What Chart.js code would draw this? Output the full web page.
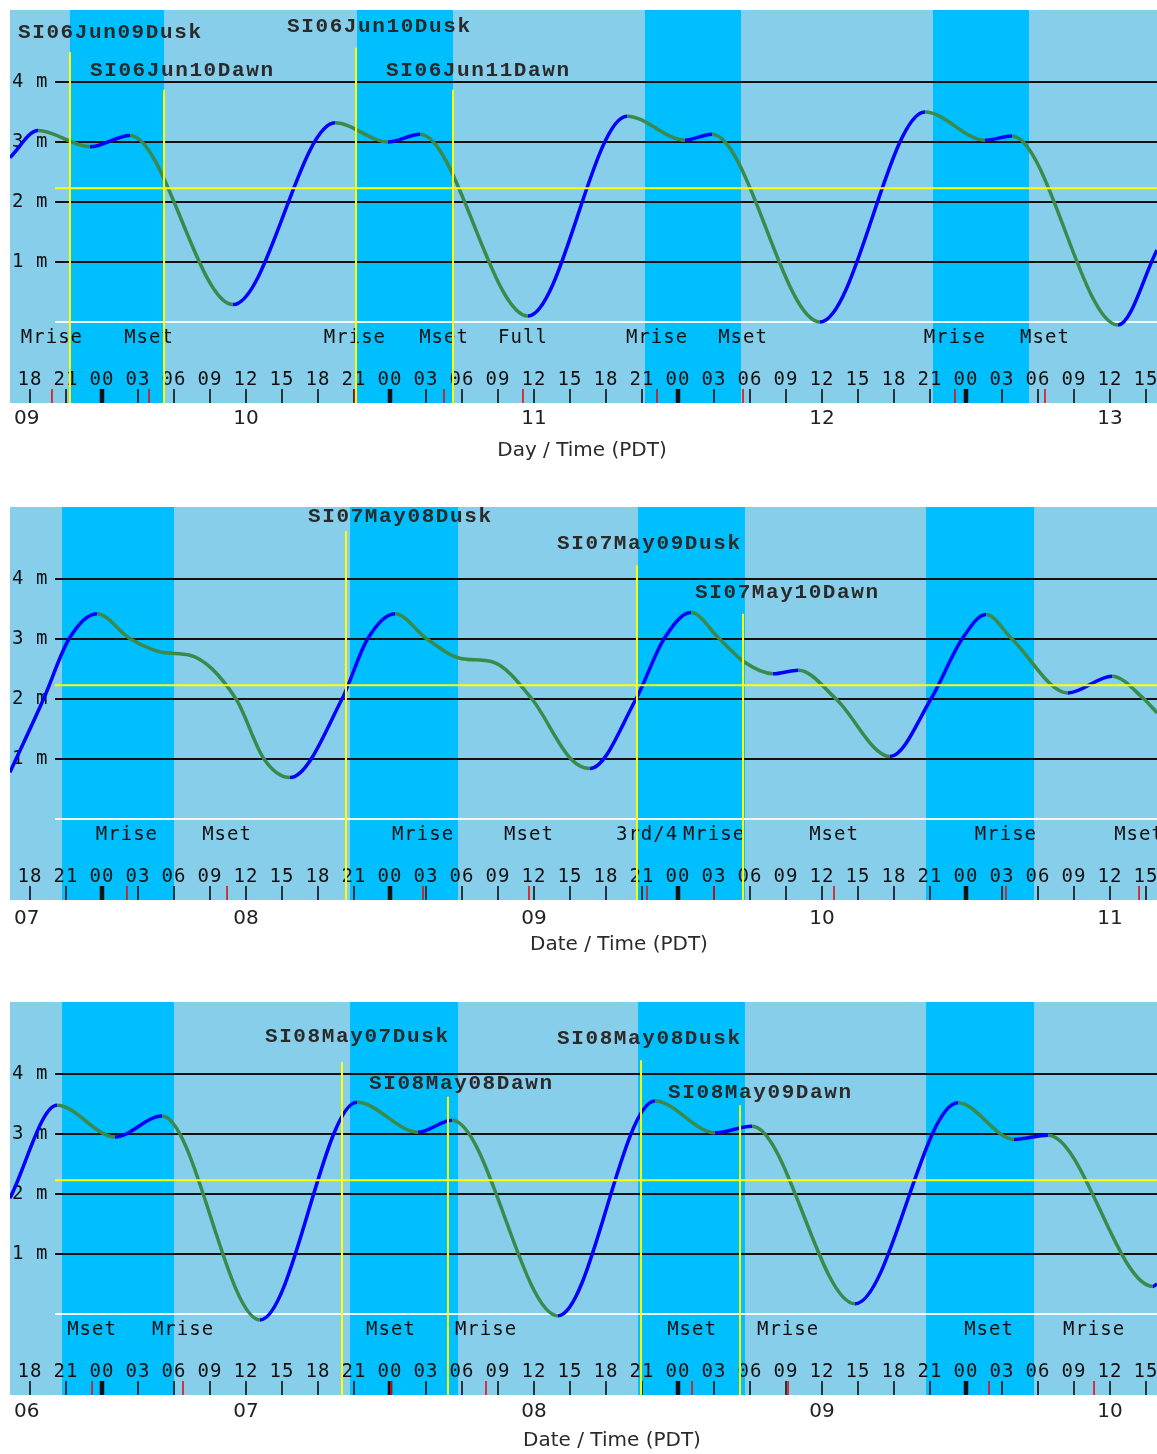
<!DOCTYPE html>
<html>
<head>
<meta charset="utf-8">
<script src="https://cdn.jsdelivr.net/npm/chart.js@4/dist/chart.umd.min.js"></script>
<style>
  html, body { margin: 0; padding: 0; background: #fff; }
  body { width: 1157px; height: 1454px; position: relative; overflow: hidden; }
  .panel { position: absolute; left: 0; width: 1157px; }
  canvas { display: block; }
</style>
</head>
<body>
<div class="panel" style="top:0"><canvas id="c1"></canvas></div>
<div class="panel" style="top:497px"><canvas id="c2"></canvas></div>
<div class="panel" style="top:992px"><canvas id="c3"></canvas></div>
<script>
// Time on the x axis is hours since 00:00 of the first day named in each panel.

// Shared axis labelling
const hourTicks = [18,21,24,27,30,33,36,39,42,45,48,51,54,57,60,63,66,69,72,75,78,81,84,87,90,93,96,99,102,105,108,111];
const hourTickLabels = ['18','21','00','03','06','09','12','15','18','21','00','03','06','09','12','15',
                        '18','21','00','03','06','09','12','15','18','21','00','03','06','09','12','15'];
const midnightHours = [24,48,72,96];
const dayNoonHours = [12,36,60,84,108];
const depthLevels = [1,2,3,4];
const depthLabels = ['1 m','2 m','3 m','4 m'];
const meanLevel = 2.23;

// ---- Panel 1: 09 - 13 June ----
const p1Days = ['09','10','11','12','13'];
const p1TideHours  = [16.33, 18.67, 23.0, 26.33, 34.92, 43.42, 47.83, 50.5, 59.5, 67.75, 72.58, 74.83, 83.83, 92.58, 97.58, 99.83, 108.67, 111.92];
const p1TideMetres = [2.74, 3.19, 2.92, 3.11, 0.29, 3.32, 3.0, 3.13, 0.1, 3.43, 3.03, 3.13, 0.0, 3.5, 3.03, 3.1, -0.05, 1.2];
const p1NightStart = [21.33, 45.25, 69.25, 93.25];
const p1NightEnd   = [29.17, 53.25, 77.25, 101.25];
const p1MoonHours  = [19.83, 27.92, 45.08, 52.5, 59.08, 70.25, 77.42, 95.08, 102.58];
const p1MoonNames  = ['Mrise','Mset','Mrise','Mset','Full','Mrise','Mset','Mrise','Mset'];
const p1MarkHours  = [21.33, 29.17, 45.17, 53.25];
const p1MarkNames  = ['SI06Jun09Dusk','SI06Jun10Dawn','SI06Jun10Dusk','SI06Jun11Dawn'];

// ---- Panel 2: 07 - 11 May ----
const p2Days = ['07','08','09','10','11'];
const p2TideHours  = [16.33, 19.13, 21.25, 23.58, 26.38, 29.25, 31.33, 35.17, 37.5, 39.67, 44.0, 46.13, 48.42, 51.08, 54.0, 56.5, 59.83, 63.08, 64.67,
                      68.5, 70.83, 73.08, 75.47, 77.5, 79.92, 82.04, 85.17, 89.67, 93.08, 95.67, 97.67, 99.83, 104.5, 108.17, 110.83, 111.92];
const p2TideMetres = [0.78, 2.0, 3.0, 3.42, 3.0, 2.77, 2.73, 2.0, 1.0, 0.69, 2.0, 3.0, 3.42, 3.0, 2.67, 2.62, 2.0, 1.0, 0.84,
                      2.0, 3.0, 3.44, 3.0, 2.62, 2.42, 2.48, 2.0, 1.04, 2.0, 3.0, 3.41, 3.0, 2.1, 2.38, 2.0, 1.77];
const p2NightStart = [20.67, 44.67, 68.67, 92.67];
const p2NightEnd   = [30.0, 53.67, 77.58, 101.67];
const p2MoonHours  = [26.08, 34.42, 50.75, 59.58, 69.42, 75.0, 85.0, 99.33, 110.42];
const p2MoonNames  = ['Mrise','Mset','Mrise','Mset','3rd/4','Mrise','Mset','Mrise','Mset'];
const p2MarkHours  = [44.33, 68.58, 77.42];
const p2MarkNames  = ['SI07May08Dusk','SI07May09Dusk','SI07May10Dawn'];

// ---- Panel 3: 06 - 10 May ----
const p3Days = ['06','07','08','09','10'];
const p3TideHours  = [16.33, 20.25, 25.08, 29.0, 37.17, 45.25, 50.33, 53.17, 62.0, 70.08, 75.08, 78.17, 86.75, 95.33, 100.0, 102.83, 111.58, 111.92];
const p3TideMetres = [1.93, 3.48, 2.95, 3.3, -0.1, 3.53, 3.03, 3.23, -0.03, 3.55, 3.02, 3.13, 0.17, 3.52, 2.91, 2.98, 0.46, 0.5];
const p3NightStart = [20.67, 44.67, 68.67, 92.67];
const p3NightEnd   = [30.0, 53.67, 77.58, 101.67];
const p3MoonHours  = [23.17, 30.75, 48.08, 56.0, 73.17, 81.17, 97.92, 106.67];
const p3MoonNames  = ['Mset','Mrise','Mset','Mrise','Mset','Mrise','Mset','Mrise'];
const p3MarkHours  = [44.0, 52.83, 68.92, 77.17];
const p3MarkNames  = ['SI08May07Dusk','SI08May08Dawn','SI08May08Dusk','SI08May09Dawn'];

// Placement of the dusk/dawn markers: line top (m), label left edge (h), label middle (m)
const p1MarkLayout = [
  { top: 4.50, labelX: 17.0,  labelY: 4.82 },
  { top: 3.87, labelX: 23.0,  labelY: 4.18 },
  { top: 4.57, labelX: 39.42, labelY: 4.92 },
  { top: 3.87, labelX: 47.67, labelY: 4.18 }
];
const p2MarkLayout = [
  { top: 4.80, labelX: 41.17, labelY: 5.03 },
  { top: 4.23, labelX: 61.92, labelY: 4.58 },
  { top: 3.42, labelX: 73.42, labelY: 3.77 }
];
const p3MarkLayout = [
  { top: 4.20, labelX: 37.58, labelY: 4.62 },
  { top: 3.62, labelX: 46.25, labelY: 3.83 },
  { top: 4.23, labelX: 61.92, labelY: 4.58 },
  { top: 3.48, labelX: 71.17, labelY: 3.68 }
];

const SKY = '#87ceeb', NIGHT = '#00bfff', RISE = '#0000ff', FALL = '#3a8a4c', MARK = '#ffff00';
const MONO = '"DejaVu Sans Mono", monospace';

function line(ctx, x0, y0, x1, y1, color, width) {
  ctx.save();
  ctx.strokeStyle = color; ctx.lineWidth = width;
  ctx.beginPath(); ctx.moveTo(x0, y0); ctx.lineTo(x1, y1); ctx.stroke();
  ctx.restore();
}

function text(ctx, str, x, y, font, color, align, spacing) {
  ctx.save();
  ctx.font = font; ctx.fillStyle = color;
  ctx.textAlign = align || 'left'; ctx.textBaseline = 'middle';
  if ('letterSpacing' in ctx) ctx.letterSpacing = (spacing || 0) + 'px';
  ctx.fillText(str, x, y);
  ctx.restore();
}

const tideDecor = {
  id: 'tideDecor',
  beforeDatasetsDraw(chart, args, o) {
    const { ctx, chartArea: a, scales: { x, y } } = chart;
    ctx.save();
    ctx.fillStyle = SKY;
    ctx.fillRect(a.left, a.top, a.width, a.height);
    ctx.fillStyle = NIGHT;
    o.nightStart.forEach((s, i) => {
      const x0 = Math.max(a.left, x.getPixelForValue(s));
      const x1 = Math.min(a.right, x.getPixelForValue(o.nightEnd[i]));
      ctx.fillRect(x0, a.top, x1 - x0, a.height);
    });
    ctx.restore();

    const gx = a.left + 45;
    depthLevels.forEach((lv, i) => {
      const py = y.getPixelForValue(lv);
      line(ctx, gx, py, a.right, py, '#111', 2);
      text(ctx, depthLabels[i], a.left + 2, py, '19px ' + MONO, '#111', 'left', 0.5);
    });
    const zy = y.getPixelForValue(0);
    line(ctx, gx, zy, a.right, zy, '#f2f8fc', 2);

    // moon events: name above the hour row, red tick on the time axis
    o.moonHours.forEach((h, i) => {
      text(ctx, o.moonNames[i], x.getPixelForValue(h), a.top + 328, '19px ' + MONO, '#111', 'center', 1);
    });
    hourTicks.forEach((h, i) => {
      const px = x.getPixelForValue(h);
      text(ctx, hourTickLabels[i], px, a.top + 370, '19px ' + MONO, '#111', 'center', 1);
      const thick = midnightHours.includes(h);
      line(ctx, px, a.bottom - 14, px, a.bottom, '#111', thick ? 4.5 : 1.6);
    });
    o.moonHours.forEach(h => {
      const px = x.getPixelForValue(h);
      line(ctx, px, a.bottom - 14, px, a.bottom, '#e01010', 1.6);
    });
  },
  afterDatasetsDraw(chart, args, o) {
    const { ctx, chartArea: a, scales: { x, y } } = chart;
    ctx.save();
    ctx.beginPath(); ctx.rect(a.left, a.top, a.width, a.height); ctx.clip();
    const my = y.getPixelForValue(meanLevel);
    line(ctx, a.left + 45, my, a.right, my, MARK, 2);
    o.markHours.forEach((h, i) => {
      const px = x.getPixelForValue(h);
      const lay = o.markLayout[i];
      line(ctx, px, y.getPixelForValue(lay.top), px, a.bottom, MARK, 2);
      text(ctx, o.markNames[i], x.getPixelForValue(lay.labelX), y.getPixelForValue(lay.labelY),
           'bold 21px "Liberation Mono", monospace', '#2a2a2a', 'left', 1.6);
    });
    ctx.restore();

    // day names at noon, the first one held inside the left edge
    ctx.save();
    ctx.font = '20px "DejaVu Sans", sans-serif';
    o.days.forEach((d, i) => {
      let px = x.getPixelForValue(dayNoonHours[i]);
      const half = ctx.measureText(d).width / 2;
      if (px - half < a.left + 4) px = a.left + 4 + half;
      text(ctx, d, px, a.bottom + o.dayGap, '20px "DejaVu Sans", sans-serif', '#222', 'center', 0);
    });
    ctx.restore();
    text(ctx, o.title, o.titleX, a.bottom + o.titleGap, '20px "DejaVu Sans", sans-serif', '#2a2a2a', 'center', 0);
  }
};

function makePanel(id, canvasHeight, hours, metres, extra) {
  const canvas = document.getElementById(id);
  canvas.width = 1157;
  canvas.height = canvasHeight;
  return new Chart(canvas, {
    type: 'line',
    data: {
      datasets: [{
        data: hours.map((h, i) => ({ x: h, y: metres[i] })),
        borderWidth: 3.5,
        borderColor: FALL,
        pointRadius: 0,
        fill: false,
        cubicInterpolationMode: 'monotone',
        segment: {
          borderColor: c => (c.p1.parsed.y > c.p0.parsed.y ? RISE : FALL)
        }
      }]
    },
    options: {
      responsive: false,
      animation: false,
      events: [],
      layout: { padding: { left: 10, top: 10, right: 0, bottom: canvasHeight - 403 } },
      scales: {
        x: { type: 'linear', min: 16.333, max: 16.333 + 1147 / 12, display: false },
        y: { min: -1.35, max: 5.2, display: false }
      },
      plugins: {
        legend: { display: false },
        tooltip: { enabled: false },
        tideDecor: extra
      }
    },
    plugins: [tideDecor]
  });
}

makePanel('c1', 497, p1TideHours, p1TideMetres, {
  days: p1Days, nightStart: p1NightStart, nightEnd: p1NightEnd,
  moonHours: p1MoonHours, moonNames: p1MoonNames,
  markHours: p1MarkHours, markNames: p1MarkNames, markLayout: p1MarkLayout,
  title: 'Day / Time (PDT)', titleX: 582, dayGap: 16, titleGap: 48
});
makePanel('c2', 495, p2TideHours, p2TideMetres, {
  days: p2Days, nightStart: p2NightStart, nightEnd: p2NightEnd,
  moonHours: p2MoonHours, moonNames: p2MoonNames,
  markHours: p2MarkHours, markNames: p2MarkNames, markLayout: p2MarkLayout,
  title: 'Date / Time (PDT)', titleX: 619, dayGap: 19, titleGap: 45
});
makePanel('c3', 462, p3TideHours, p3TideMetres, {
  days: p3Days, nightStart: p3NightStart, nightEnd: p3NightEnd,
  moonHours: p3MoonHours, moonNames: p3MoonNames,
  markHours: p3MarkHours, markNames: p3MarkNames, markLayout: p3MarkLayout,
  title: 'Date / Time (PDT)', titleX: 612, dayGap: 17, titleGap: 46
});
</script>
</body>
</html>
